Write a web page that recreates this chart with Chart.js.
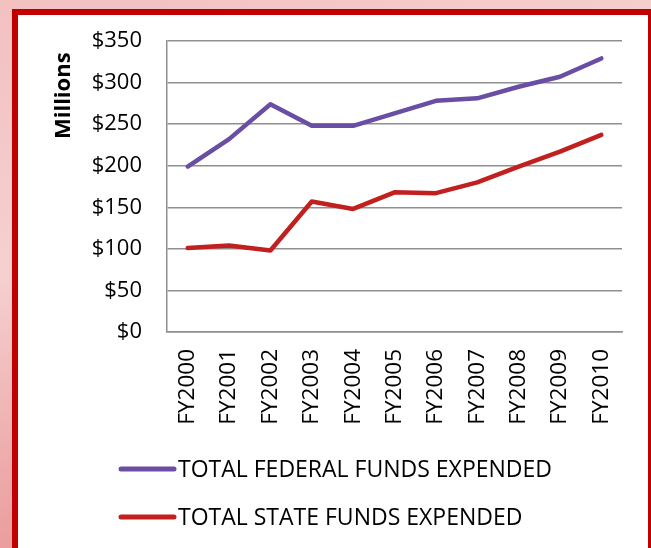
<!DOCTYPE html>
<html>
<head>
<meta charset="utf-8">
<script src="https://cdn.jsdelivr.net/npm/chart.js@4"></script>
<style>
  html, body { margin: 0; padding: 0; }
  body {
    width: 651px; height: 548px; overflow: hidden; position: relative;
    background: linear-gradient(160deg, #f3c0c0 0%, #f6d0d0 35%, #eeaaaa 60%, #e57777 100%);
  }
  #frame {
    position: absolute; left: 12px; top: 9px; width: 642px; height: 600px;
    box-sizing: border-box; border: 6px solid #c00000; background: #fff;
  }
  #wrap { position: absolute; left: 0; top: 0; width: 651px; height: 548px; }
</style>
</head>
<body>
<div id="frame"></div>
<div id="wrap"><canvas id="fundsChart"></canvas></div>
<script>
const years = ['FY2000', 'FY2001', 'FY2002', 'FY2003', 'FY2004', 'FY2005', 'FY2006', 'FY2007', 'FY2008', 'FY2009', 'FY2010'];
const federalFunds = [199, 232, 274, 248, 248, 263, 278, 281, 295, 307, 329];
const stateFunds = [101, 104, 98, 157, 148, 168, 167, 180, 199, 217, 237];
const yTicks = [0, 50, 100, 150, 200, 250, 300, 350];

Chart.defaults.font.family = "'Open Sans', sans-serif";
Chart.defaults.color = '#000';

// Légende dessinée à la main, alignée à gauche comme dans l'original
const leftLegend = {
    id: 'leftLegend',
    afterDraw(chart) {
        const ctx = chart.ctx;
        ctx.save();
        ctx.font = "23px 'Open Sans', sans-serif";
        ctx.textBaseline = 'middle';
        ctx.lineCap = 'round';
        chart.data.datasets.forEach((ds, i) => {
            const y = 469 + i * 48;
            ctx.strokeStyle = ds.borderColor;
            ctx.lineWidth = 5;
            ctx.beginPath();
            ctx.moveTo(121, y);
            ctx.lineTo(174, y);
            ctx.stroke();
            ctx.fillStyle = '#000';
            ctx.fillText(ds.label, 178, y + 1);
        });
        ctx.restore();
    }
};

const ctx = document.getElementById('fundsChart');
new Chart(ctx, {
    type: 'line',
    data: {
        labels: years,
        datasets: [
            {
                label: 'TOTAL FEDERAL FUNDS EXPENDED',
                data: federalFunds,
                borderColor: '#6a4ea4',
                borderWidth: 4.5,
                borderCapStyle: 'round',
                borderJoinStyle: 'round',
                pointRadius: 0,
                tension: 0
            },
            {
                label: 'TOTAL STATE FUNDS EXPENDED',
                data: stateFunds,
                borderColor: '#c21f1f',
                borderWidth: 4.5,
                borderCapStyle: 'round',
                borderJoinStyle: 'round',
                pointRadius: 0,
                tension: 0
            }
        ]
    },
    options: {
        responsive: true,
        maintainAspectRatio: false,
        animation: false,
        layout: {
            padding: { top: 41, left: 51, right: 29, bottom: 116 }
        },
        plugins: {
            legend: { display: false },
            tooltip: { enabled: false }
        },
        scales: {
            x: {
                offset: true,
                grid: { display: false },
                border: { display: true, color: '#8f8f8f', width: 1.5 },
                ticks: {
                    minRotation: 90,
                    maxRotation: 90,
                    padding: 9,
                    font: { size: 22.5 }
                },
                afterFit(scale) { scale.height = 100; }
            },
            y: {
                min: 0,
                max: 350,
                afterBuildTicks(scale) { scale.ticks = yTicks.map(v => ({ value: v })); },
                grid: { color: '#8f8f8f', lineWidth: 1.5, drawTicks: false },
                border: { display: true, color: '#8f8f8f', width: 1.5 },
                ticks: {
                    padding: 25,
                    font: { size: 22 },
                    callback: v => '$' + v
                },
                title: {
                    display: true,
                    text: 'Millions  ',
                    align: 'end',
                    padding: 0,
                    font: { size: 22, weight: 'bold' }
                },
                afterFit(scale) { scale.width = 116; }
            }
        }
    },
    plugins: [leftLegend]
});
</script>
</body>
</html>
